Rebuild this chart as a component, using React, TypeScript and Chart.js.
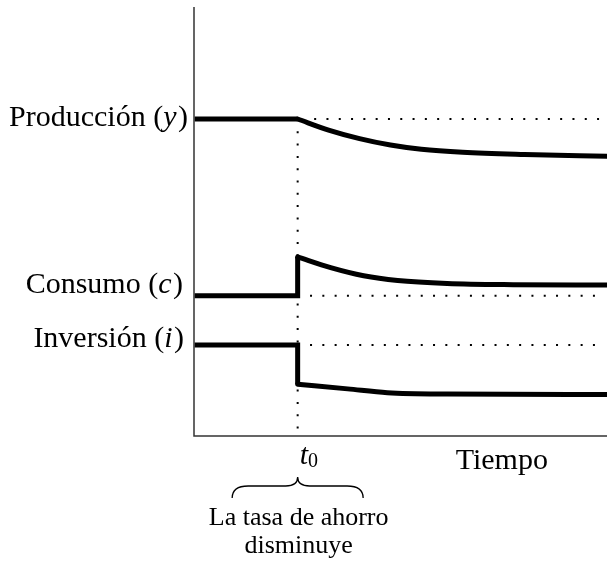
import React, { useEffect, useRef } from "react";
import { Chart, registerables } from "chart.js";

Chart.register(...registerables);

// ---- data (time axis in arbitrary units, levels in arbitrary units) ----
const T0 = 10;
const X_MIN = -0.15;
const X_MAX = 40;
const Y_MAX = 100;

const prodBeforeX = [0, 10];
const prodBefore = [74.0, 74.0];
const prodAfterX = [10, 13, 16, 19, 22, 26, 32, 40];
const prodAfter = [74.0, 71.4, 69.4, 67.9, 66.9, 66.2, 65.7, 65.3];

const consBeforeX = [0, 10, 10];
const consBefore = [32.6, 32.6, 41.7];
const consAfterX = [10, 13.2, 16.4, 19.7, 24.5, 30.9, 40];
const consAfter = [41.7, 39.2, 37.3, 36.2, 35.5, 35.2, 35.1];

const invBeforeX = [0, 10, 10];
const invBefore = [21.1, 21.1, 11.9];
const invAfterX = [10, 14.85, 18.7, 24.5, 40];
const invAfter = [11.9, 10.8, 9.9, 9.6, 9.5];

const refStartX = [11.6, 11.2, 11.2];
const refEndX = 39.6;

const seriesNames = ["Producción", "Consumo", "Inversión"];
const seriesSymbols = ["y", "c", "i"];
const timeLabel = "Tiempo";
const t0Label = "t";
const t0Sub = "0";
const noteLines = ["La tasa de ahorro", "disminuye"];
const TIEMPO_X = 29.8;

const pts = (xs: number[], ys: number[]) => xs.map((x, i) => ({ x, y: ys[i] }));

const FONT = '"Liberation Serif", "Times New Roman", serif';

function drawSeriesLabel(
  ctx: CanvasRenderingContext2D,
  name: string,
  sym: string,
  right: number,
  baseline: number,
  size: number,
  sx: number
) {
  ctx.save();
  ctx.translate(right, baseline);
  ctx.scale(sx, 1);
  ctx.textAlign = "left";
  ctx.textBaseline = "alphabetic";
  ctx.fillStyle = "#000";
  const reg = `${size}px ${FONT}`;
  const ital = `italic ${size}px ${FONT}`;
  ctx.font = reg;
  const w1 = ctx.measureText(name + " (").width;
  const w3 = ctx.measureText(")").width;
  ctx.font = ital;
  const w2 = ctx.measureText(sym).width;
  const gap = 1.5;
  let x = -(w1 + w2 + gap + w3);
  ctx.font = reg;
  ctx.fillText(name + " (", x, 0);
  x += w1;
  ctx.font = ital;
  ctx.fillText(sym, x, 0);
  x += w2 + gap;
  ctx.font = reg;
  ctx.fillText(")", x, 0);
  ctx.restore();
}

function drawCentered(
  ctx: CanvasRenderingContext2D,
  text: string,
  cx: number,
  baseline: number,
  font: string,
  sx: number
) {
  ctx.save();
  ctx.translate(cx, baseline);
  ctx.scale(sx, 1);
  ctx.font = font;
  ctx.textAlign = "center";
  ctx.textBaseline = "alphabetic";
  ctx.fillStyle = "#000";
  ctx.fillText(text, 0, 0);
  ctx.restore();
}

const annotationPlugin = {
  id: "annotations",
  afterDatasetsDraw(chart: any) {
    const { ctx, chartArea, scales } = chart;
    const xs = scales.x;
    const ys = scales.y;
    ctx.save();

    // axes
    ctx.strokeStyle = "#333";
    ctx.lineWidth = 1.5;
    ctx.beginPath();
    ctx.moveTo(chartArea.left + 1, chartArea.top - 1);
    ctx.lineTo(chartArea.left + 1, chartArea.bottom + 1);
    ctx.lineTo(chartArea.right, chartArea.bottom + 1);
    ctx.stroke();

    // series labels
    const levels = [prodBefore[0], consBefore[0], invBefore[0]];
    const rights = [188, 183, 184];
    const baseOff = [7, -3, 2];
    levels.forEach((v, i) => {
      const py = ys.getPixelForValue(v);
      drawSeriesLabel(ctx, seriesNames[i], seriesSymbols[i], rights[i], py + baseOff[i], 30, 1.0);
    });

    const tx = xs.getPixelForValue(T0);
    const bottom = chartArea.bottom;

    // t0
    ctx.fillStyle = "#000";
    ctx.textAlign = "left";
    ctx.textBaseline = "alphabetic";
    ctx.font = `italic 30px ${FONT}`;
    ctx.fillText(t0Label, tx + 2, bottom + 29);
    const tw = ctx.measureText(t0Label).width;
    ctx.font = `20px ${FONT}`;
    ctx.fillText(t0Sub, tx + 2 + tw, bottom + 32);

    // Tiempo
    drawCentered(ctx, timeLabel, xs.getPixelForValue(TIEMPO_X), bottom + 34, `30px ${FONT}`, 1.0);

    // brace
    const cx = tx;
    const bTop = bottom + 42;
    const bBot = bottom + 63;
    const hw = 65.5;
    const mid = bTop + 9;
    ctx.strokeStyle = "#000";
    ctx.lineWidth = 1.3;
    ctx.beginPath();
    ctx.moveTo(cx - hw, bBot);
    ctx.quadraticCurveTo(cx - hw, mid, cx - hw + 16, mid);
    ctx.lineTo(cx - 12, mid);
    ctx.quadraticCurveTo(cx, mid, cx, bTop);
    ctx.quadraticCurveTo(cx, mid, cx + 12, mid);
    ctx.lineTo(cx + hw - 16, mid);
    ctx.quadraticCurveTo(cx + hw, mid, cx + hw, bBot);
    ctx.stroke();

    // note
    drawCentered(ctx, noteLines[0], cx + 1, bottom + 90, `26px ${FONT}`, 1.0);
    drawCentered(ctx, noteLines[1], cx + 1, bottom + 118, `26px ${FONT}`, 1.0);

    ctx.restore();
  },
};

export default function App() {
  const canvasRef = useRef<HTMLCanvasElement | null>(null);

  useEffect(() => {
    if (!canvasRef.current) return;
    const solid = {
      borderColor: "#000",
      borderWidth: 5,
      pointRadius: 0,
      fill: false,
      borderJoinStyle: "miter" as const,
    };
    const curve = {
      ...solid,
      cubicInterpolationMode: "monotone" as const,
      borderCapStyle: "round" as const,
    };
    const dotted = {
      borderColor: "#000",
      borderWidth: 2,
      borderDash: [2, 10.3],
      pointRadius: 0,
      fill: false,
      borderCapStyle: "butt" as const,
    };
    const chart = new Chart(canvasRef.current, {
      type: "line",
      data: {
        datasets: [
          { ...dotted, label: "t0", data: [{ x: T0, y: prodBefore[0] }, { x: T0, y: 0 }] },
          { ...dotted, label: "ref y", data: [{ x: refStartX[0], y: prodBefore[0] }, { x: refEndX, y: prodBefore[0] }] },
          { ...dotted, label: "ref c", data: [{ x: refStartX[1], y: consBefore[0] }, { x: refEndX, y: consBefore[0] }] },
          { ...dotted, label: "ref i", data: [{ x: refStartX[2], y: invBefore[0] }, { x: refEndX, y: invBefore[0] }] },
          { ...solid, label: "y0", data: pts(prodBeforeX, prodBefore) },
          { ...curve, label: "y1", data: pts(prodAfterX, prodAfter) },
          { ...solid, label: "c0", data: pts(consBeforeX, consBefore) },
          { ...curve, label: "c1", data: pts(consAfterX, consAfter) },
          { ...solid, label: "i0", data: pts(invBeforeX, invBefore) },
          { ...curve, label: "i1", data: pts(invAfterX, invAfter) },
        ],
      },
      options: {
        animation: false,
        responsive: false,
        maintainAspectRatio: false,
        layout: { padding: { left: 193, right: 0, top: 8, bottom: 127 } },
        plugins: { legend: { display: false }, tooltip: { enabled: false } },
        scales: {
          x: { type: "linear", min: X_MIN, max: X_MAX, display: false },
          y: { type: "linear", min: 0, max: Y_MAX, display: false },
        },
        events: [],
      },
      plugins: [annotationPlugin],
    });
    return () => chart.destroy();
  }, []);

  return (
    <div style={{ position: "absolute", left: 0, top: 0, width: 607, height: 562, background: "#fff" }}>
      <canvas ref={canvasRef} width={607} height={562} style={{ display: "block" }} />
    </div>
  );
}
